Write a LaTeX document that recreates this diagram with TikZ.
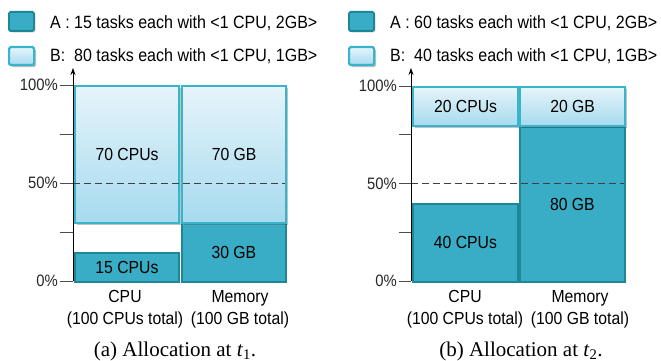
\documentclass[tikz,border=0pt]{standalone}
\usepackage{fontspec}
\setmainfont{Liberation Sans}[FakeStretch=0.9]
\newfontfamily\capfont{Liberation Serif}
\usetikzlibrary{shadows,arrows.meta}
\definecolor{aFill}{HTML}{39ADC5}
\definecolor{aEdge}{HTML}{1F8698}
\definecolor{bEdge}{HTML}{38B4CB}
\definecolor{bTop}{HTML}{E6F4FB}
\definecolor{bBot}{HTML}{A6DAEE}
\tikzset{
  blkfont/.style={font=\fontsize{17.5}{20}\selectfont},
  ablk/.style={draw=aEdge, line width=1.8pt, fill=aFill, inner sep=0pt,
    anchor=north west, blkfont,
    drop shadow={shadow xshift=1.5pt, shadow yshift=-1.5pt, opacity=.25, fill=black}},
  bblk/.style={draw=bEdge, line width=2.2pt, top color=bTop, bottom color=bBot,
    inner sep=0pt, anchor=north west, blkfont,
    drop shadow={shadow xshift=2pt, shadow yshift=-2pt, opacity=.35, fill=black!70}},
  legA/.style={ablk, rounded corners=1.5pt, minimum width=25pt, minimum height=19pt},
  legB/.style={bblk, rounded corners=1.5pt, minimum width=25pt, minimum height=18pt},
  legtext/.style={anchor=base west, inner sep=0pt, font=\fontsize{17.8}{20}\selectfont},
  axisline/.style={line width=0.8pt, -{Stealth[length=7pt,width=5pt]}},
  tickline/.style={line width=0.8pt, black!70},
  pct/.style={anchor=east, inner sep=1pt, font=\fontsize{16.5}{20}\selectfont, black!85},
  halfline/.style={line width=0.8pt, black!75, dash pattern=on 7pt off 4pt},
  collabel/.style={align=center, font=\fontsize{17.5}{22}\selectfont},
  captext/.style={font=\capfont\fontsize{21}{24}\selectfont},
}
\begin{document}
\begin{tikzpicture}[x=1pt, y=-1pt]
\useasboundingbox (0,0) rectangle (661,361);

% ---------- left panel: allocation at t1 ----------
\node[legA] (legA1) at (8,11) {};
\node[legB] (legB1) at (8,46) {};
\node[legtext] (txtA1) at (50,29) {A : 15 tasks each with <1 CPU, 2GB>};
\node[legtext] (txtB1) at (50,62) {B:\ \ 80 tasks each with <1 CPU, 1GB>};

\node[ablk, minimum width=104pt, minimum height=29pt] (cpuA1) at (74,252) {15 CPUs};
\node[ablk, minimum width=104pt, minimum height=59pt] (memA1) at (181,222) {30 GB};
\node[bblk, minimum width=104pt, minimum height=137pt] (cpuB1) at (74,85) {70 CPUs};
\node[bblk, minimum width=104pt, minimum height=137pt] (memB1) at (181,85) {70 GB};

\coordinate (orgL) at (73,281);
\coordinate (topL) at (73,68);
\foreach \p in {0,25,50,75,100}{
  \pgfmathsetmacro{\yy}{281-1.96*\p}
  \draw[tickline] (60,\yy) -- (73,\yy);
}
\node[pct] (p100L) at (59,85) {100\%};
\node[pct] (p50L) at (59,183) {50\%};
\node[pct] (p0L) at (59,281) {0\%};
\coordinate (hlL) at (73,183);
\coordinate (hrL) at (285,183);
\draw[halfline] (hlL) -- (hrL);
\draw[axisline] (orgL) -- (topL);

\node[collabel] (cpuLabL) at (125,309) {CPU\\(100 CPUs total)};
\node[collabel] (memLabL) at (240,309) {Memory\\(100 GB total)};
\node[captext] (capL) at (175,351) {(a) Allocation at \textit{t}\textsubscript{1}.};

% ---------- right panel: allocation at t2 ----------
\node[legA] (legA2) at (348,11) {};
\node[legB] (legB2) at (348,46) {};
\node[legtext] (txtA2) at (390,29) {A : 60 tasks each with <1 CPU, 2GB>};
\node[legtext] (txtB2) at (390,62) {B:\ \ 40 tasks each with <1 CPU, 1GB>};

\node[ablk, minimum width=105pt, minimum height=78pt] (cpuA2) at (412,203) {40 CPUs};
\node[ablk, minimum width=105pt, minimum height=155pt] (memA2) at (519,126) {80 GB};
\node[bblk, minimum width=105pt, minimum height=39pt] (cpuB2) at (412,86) {20 CPUs};
\node[bblk, minimum width=105pt, minimum height=39pt] (memB2) at (519,86) {20 GB};

\coordinate (orgR) at (411,281);
\coordinate (topR) at (411,68);
\foreach \p in {0,25,50,75,100}{
  \pgfmathsetmacro{\yy}{281-1.95*\p}
  \draw[tickline] (399,\yy) -- (411,\yy);
}
\node[pct] (p100R) at (398,86) {100\%};
\node[pct] (p50R) at (398,183.5) {50\%};
\node[pct] (p0R) at (398,281) {0\%};
\coordinate (hlR) at (411,183.5);
\coordinate (hrR) at (624,183.5);
\draw[halfline] (hlR) -- (hrR);
\draw[axisline] (orgR) -- (topR);

\node[collabel] (cpuLabR) at (465,309) {CPU\\(100 CPUs total)};
\node[collabel] (memLabR) at (580,309) {Memory\\(100 GB total)};
\node[captext] (capR) at (521,351) {(b) Allocation at \textit{t}\textsubscript{2}.};
\end{tikzpicture}
\end{document}
